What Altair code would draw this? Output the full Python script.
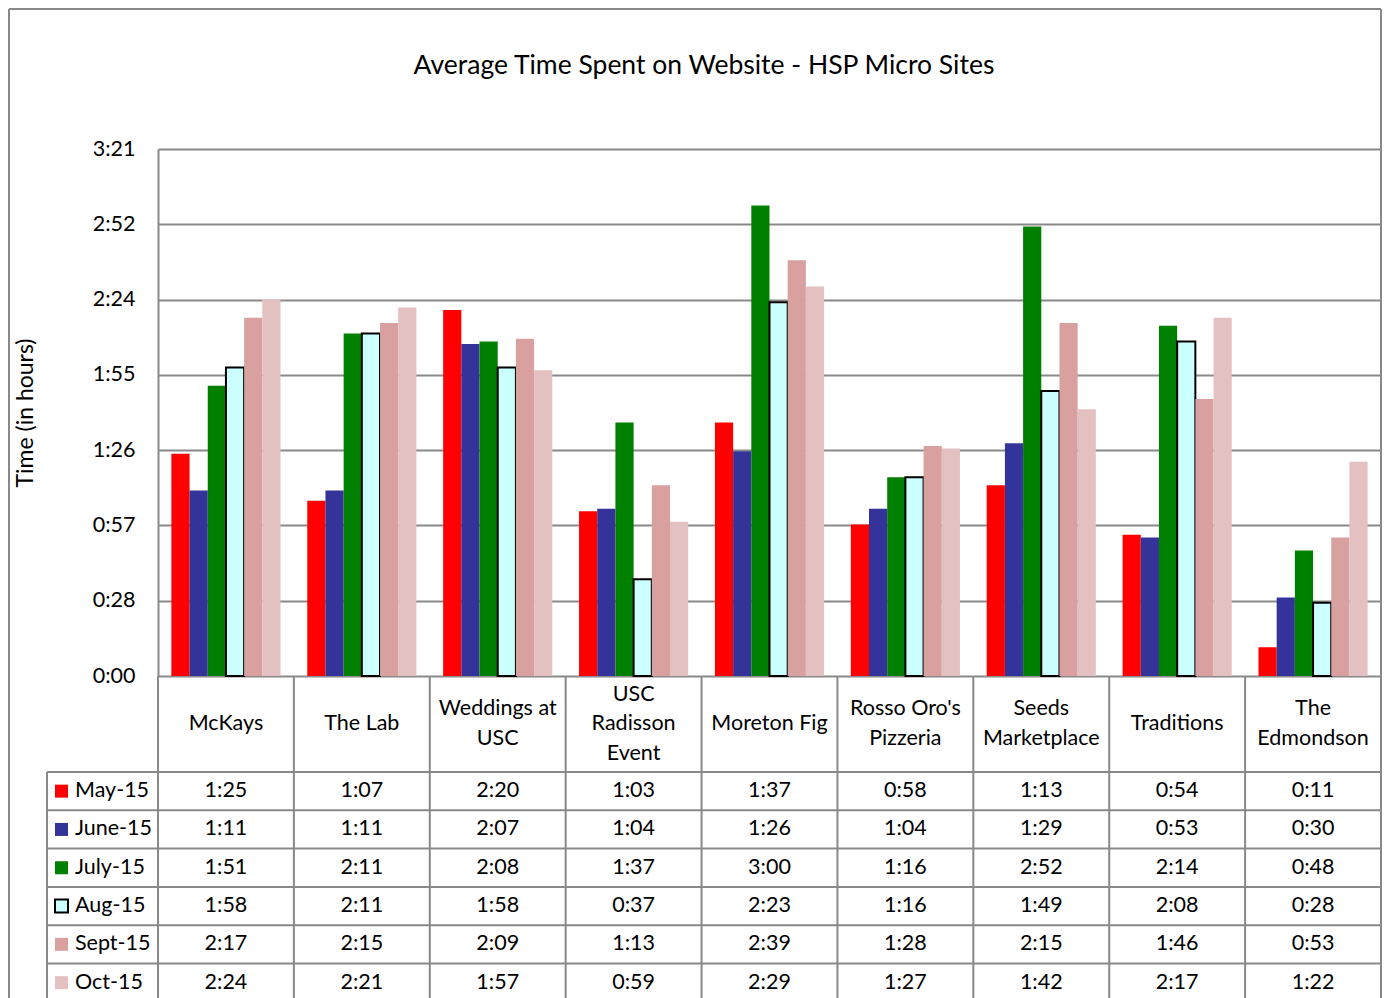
import altair as alt
import pandas as pd

FONT = "Lato"
GRID = "#898989"

chart_title = "Average Time Spent on Website - HSP Micro Sites"
y_title = "Time (in hours)"

categories = ["McKays", "The Lab", "Weddings at USC", "USC Radisson Event", "Moreton Fig",
              "Rosso Oro's Pizzeria", "Seeds Marketplace", "Traditions", "The Edmondson"]
category_labels = ["McKays", "The Lab", "Weddings at\nUSC", "USC\nRadisson\nEvent", "Moreton Fig",
                   "Rosso Oro's\nPizzeria", "Seeds\nMarketplace", "Traditions", "The\nEdmondson"]

series_names = ["May-15", "June-15", "July-15", "Aug-15", "Sept-15", "Oct-15"]
may_15 = ["1:25", "1:07", "2:20", "1:03", "1:37", "0:58", "1:13", "0:54", "0:11"]
june_15 = ["1:11", "1:11", "2:07", "1:04", "1:26", "1:04", "1:29", "0:53", "0:30"]
july_15 = ["1:51", "2:11", "2:08", "1:37", "3:00", "1:16", "2:52", "2:14", "0:48"]
aug_15 = ["1:58", "2:11", "1:58", "0:37", "2:23", "1:16", "1:49", "2:08", "0:28"]
sept_15 = ["2:17", "2:15", "2:09", "1:13", "2:39", "1:28", "2:15", "1:46", "0:53"]
oct_15 = ["2:24", "2:21", "1:57", "0:59", "2:29", "1:27", "1:42", "2:17", "1:22"]
series_colors = ["#FF0000", "#333399", "#008000", "#CCFFFF", "#D9A0A0", "#E4C1C1"]

tick_values = [0, 28.8, 57.6, 86.4, 115.2, 144.0, 172.8, 201.6]
tick_labels = ["0:00", "0:28", "0:57", "1:26", "1:55", "2:24", "2:52", "3:21"]

all_series = [may_15, june_15, july_15, aug_15, sept_15, oct_15]

W, H = 1223, 527
ROW_PX = 38.3
CAT_PX = 96.0
CAT_ROW = CAT_PX / ROW_PX          # category-label row height in table-row units
LINE_H = 29.5 / ROW_PX             # line spacing of wrapped category labels
n_rows = len(series_names)
table_end = CAT_ROW + n_rows
table_px = table_end * ROW_PX

rows = []
for s_i, (name, vals) in enumerate(zip(series_names, all_series)):
    for c, v in zip(categories, vals):
        h, m = v.split(":")
        rows.append(dict(category=c, series=name, minutes=int(h) * 60 + int(m),
                         label=v, row=CAT_ROW + 0.5 + s_i))
df = pd.DataFrame(rows)

color_scale = alt.Scale(domain=series_names, range=series_colors)
x_scale = alt.Scale(domain=categories, paddingInner=0, paddingOuter=0)
t_scale = alt.Scale(domain=[0, table_end], range=[H, H + table_px], nice=False, zero=False)

label_expr = "[" + ",".join("'%s'" % t for t in tick_labels) + "][round(datum.value/28.8)]"

one = pd.DataFrame({"text": [chart_title]})

frame_left = alt.Chart(one).mark_rule(color=GRID, strokeWidth=2).encode(
    x=alt.value(-149), y=alt.value(-140), y2=alt.value(H + table_px + 6)
)
frame_right = alt.Chart(one).mark_rule(color=GRID, strokeWidth=2).encode(
    x=alt.value(W), y=alt.value(-140), y2=alt.value(H + table_px + 6)
)
frame_top = alt.Chart(one).mark_rule(color=GRID, strokeWidth=2).encode(
    x=alt.value(-149), x2=alt.value(W), y=alt.value(-140)
)

title = alt.Chart(one).mark_text(font=FONT, fontSize=26.5, color="black", align="center",
                                 baseline="middle").encode(
    x=alt.value(546), y=alt.value(-83), text="text:N"
)

bars = alt.Chart(df).mark_bar().encode(
    x=alt.X("category:N", sort=categories, scale=x_scale, axis=None),
    xOffset=alt.XOffset("series:N", sort=series_names,
                        scale=alt.Scale(domain=series_names, paddingInner=0, paddingOuter=0.735)),
    y=alt.Y("minutes:Q", scale=alt.Scale(domain=[0, 201.6], nice=False, zero=True),
            axis=alt.Axis(values=tick_values, labelExpr=label_expr, grid=True, gridColor=GRID,
                          gridWidth=2, domainColor=GRID, domainWidth=2, ticks=False,
                          labelPadding=23, labelFont=FONT, labelFontSize=21.5, labelColor="black",
                          title=y_title, titleFont=FONT, titleFontSize=23, titleFontWeight="normal",
                          titleColor="black", titleX=-133, titleY=H / 2, titleAngle=270,
                          titleBaseline="middle", titleAlign="center")),
    color=alt.Color("series:N", scale=color_scale, legend=None),
    stroke=alt.value("black"),
    strokeWidth=alt.condition(alt.datum.series == "Aug-15", alt.value(2), alt.value(0)),
)

# table grid
vline_df = pd.DataFrame({"category": categories, "y0": [0.0] * len(categories),
                         "y1": [table_end] * len(categories)})
vlines = alt.Chart(vline_df).mark_rule(color=GRID, strokeWidth=2).encode(
    x=alt.X("category:N", sort=categories, scale=x_scale, axis=None, bandPosition=0),
    y=alt.Y("y0:Q", scale=t_scale, axis=None),
    y2="y1:Q",
)
hline_df = pd.DataFrame({"yb": [CAT_ROW + i for i in range(n_rows + 1)]})
hlines = alt.Chart(hline_df).mark_rule(color=GRID, strokeWidth=2).encode(
    x=alt.value(-111), x2=alt.value(W),
    y=alt.Y("yb:Q", scale=t_scale, axis=None),
)
lline_df = pd.DataFrame({"y0": [CAT_ROW], "y1": [table_end]})
lline = alt.Chart(lline_df).mark_rule(color=GRID, strokeWidth=2).encode(
    x=alt.value(-111),
    y=alt.Y("y0:Q", scale=t_scale, axis=None),
    y2="y1:Q",
)

cat_rows = []
for c, lab in zip(categories, category_labels):
    parts = lab.split("\n")
    n = len(parts)
    for k, p in enumerate(parts):
        cat_rows.append(dict(category=c, text=p, row=CAT_ROW / 2 + (k - (n - 1) / 2) * LINE_H))
cat_df = pd.DataFrame(cat_rows)
cat_text = alt.Chart(cat_df).mark_text(font=FONT, fontSize=21.5, color="black",
                                       baseline="middle").encode(
    x=alt.X("category:N", sort=categories, scale=x_scale, axis=None),
    y=alt.Y("row:Q", scale=t_scale, axis=None),
    text="text:N",
)

vals_text = alt.Chart(df).mark_text(font=FONT, fontSize=21.5, color="black", baseline="middle").encode(
    x=alt.X("category:N", sort=categories, scale=x_scale, axis=None),
    y=alt.Y("row:Q", scale=t_scale, axis=None),
    text="label:N",
)

leg_df = pd.DataFrame({"series": series_names, "row": [CAT_ROW + 0.5 + i for i in range(n_rows)]})
swatches = alt.Chart(leg_df).mark_square(size=169, opacity=1, filled=True).encode(
    x=alt.value(-96.5),
    y=alt.Y("row:Q", scale=t_scale, axis=None),
    color=alt.Color("series:N", scale=color_scale, legend=None),
    stroke=alt.value("black"),
    strokeWidth=alt.condition(alt.datum.series == "Aug-15", alt.value(2), alt.value(0)),
)
leg_labels = alt.Chart(leg_df).mark_text(font=FONT, fontSize=21.5, color="black", align="left",
                                         baseline="middle").encode(
    x=alt.value(-83),
    y=alt.Y("row:Q", scale=t_scale, axis=None),
    text="series:N",
)

top = alt.layer(frame_left, frame_top, frame_right, bars, title)
table = alt.layer(vlines, hlines, lline, cat_text, vals_text, swatches, leg_labels)

chart = alt.layer(top, table).resolve_scale(y="independent").properties(
    width=W, height=H, padding=0
).configure_view(strokeWidth=0)

chart.save("out.html", embed_options={"renderer": "svg", "actions": False})
